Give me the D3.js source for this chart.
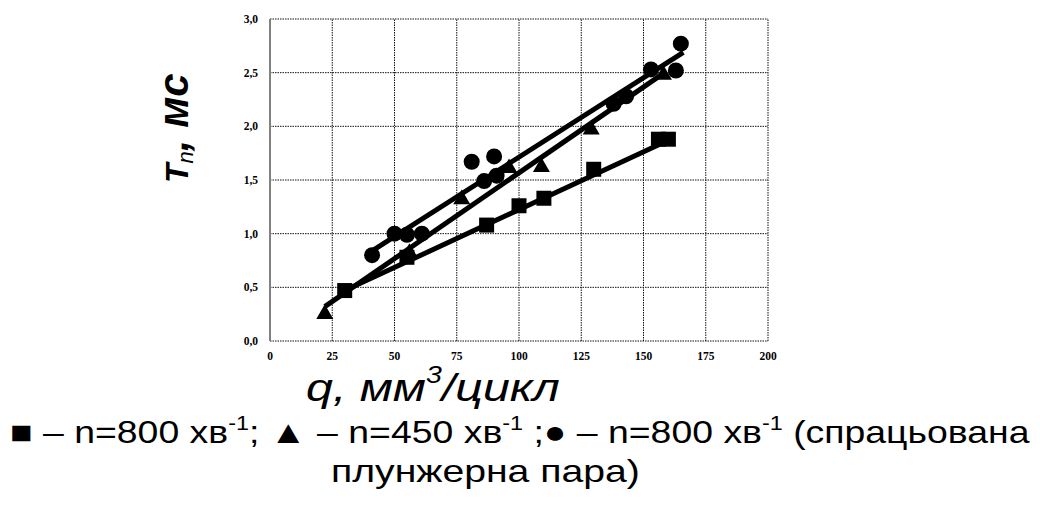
<!DOCTYPE html>
<html>
<head>
<meta charset="utf-8">
<script src="https://cdn.jsdelivr.net/npm/d3@7"></script>
<style>
  html, body { margin: 0; padding: 0; background: #fff; }
  svg { display: block; }
</style>
</head>
<body>
<div id="chart"></div>
<script>
  // ticks
  var xTicks = [0, 25, 50, 75, 100, 125, 150, 175, 200];
  var yTicks = [0, 0.5, 1.0, 1.5, 2.0, 2.5, 3.0];

  // n=800 (squares)
  var sqX = [30, 55, 87, 100, 110, 130, 156, 160];
  var sqY = [0.47, 0.78, 1.08, 1.26, 1.33, 1.60, 1.88, 1.88];

  // n=450 (triangles)
  var triX = [22, 56, 77, 96, 109, 129, 158];
  var triY = [0.25, 0.82, 1.32, 1.61, 1.62, 1.97, 2.48];

  // n=800, worn plunger pair (circles)
  var cirX = [41, 50, 55, 61, 81, 86, 90, 91, 138, 143, 153, 163, 165];
  var cirY = [0.80, 1.00, 0.99, 1.00, 1.67, 1.49, 1.72, 1.54, 2.21, 2.28, 2.53, 2.52, 2.77];

  // trend lines, start and end
  var sqFit = [[30, 0.47], [160, 1.87]];
  var triFit = [[22, 0.32], [159, 2.51]];
  var cirFit = [[41, 0.84], [166, 2.69]];

  var width = 1040,
      height = 520;

  var svg = d3.select('#chart')
    .append('svg')
    .attr('width', width)
    .attr('height', height);

  svg.append('rect')
    .attr('width', width)
    .attr('height', height)
    .attr('fill', '#fff');

  var x = d3.scaleLinear().domain([0, 200]).range([270, 768]);
  var y = d3.scaleLinear().domain([0, 3]).range([341, 19]);

  var fmt = function(d) { return d3.format('.1f')(d).replace('.', ','); };

  // grid
  var grid = svg.append('g').attr('class', 'grid');
  grid.selectAll('line.v')
    .data(xTicks.slice(1))
    .enter().append('line')
    .attr('class', 'v')
    .attr('x1', function(d) { return x(d); })
    .attr('x2', function(d) { return x(d); })
    .attr('y1', y(0))
    .attr('y2', y(3))
    .attr('stroke', '#111')
    .attr('stroke-width', 1)
    .attr('stroke-dasharray', '1.5,1');
  grid.selectAll('line.h')
    .data(yTicks)
    .enter().append('line')
    .attr('class', 'h')
    .attr('x1', x(0))
    .attr('x2', x(200))
    .attr('y1', function(d) { return y(d); })
    .attr('y2', function(d) { return y(d); })
    .attr('stroke', '#111')
    .attr('stroke-width', 1)
    .attr('stroke-dasharray', '1.5,1');

  // left axis
  svg.append('line')
    .attr('x1', x(0)).attr('x2', x(0))
    .attr('y1', y(0)).attr('y2', y(3))
    .attr('stroke', '#808080')
    .attr('stroke-width', 2);

  // tick labels
  svg.append('g').selectAll('text')
    .data(yTicks)
    .enter().append('text')
    .attr('x', 258)
    .attr('y', function(d) { return y(d) + 4; })
    .attr('text-anchor', 'end')
    .attr('font-family', 'Liberation Serif, Times New Roman, serif')
    .attr('font-weight', 'bold')
    .attr('font-size', 11.5)
    .text(fmt);

  svg.append('g').selectAll('text')
    .data(xTicks)
    .enter().append('text')
    .attr('x', function(d) { return x(d); })
    .attr('y', 360)
    .attr('text-anchor', 'middle')
    .attr('font-family', 'Liberation Serif, Times New Roman, serif')
    .attr('font-weight', 'bold')
    .attr('font-size', 11.5)
    .text(function(d) { return d; });

  // trend lines
  var line = d3.line()
    .x(function(d) { return x(d[0]); })
    .y(function(d) { return y(d[1]); });

  [sqFit, triFit, cirFit].forEach(function(f) {
    svg.append('path')
      .attr('d', line(f))
      .attr('fill', 'none')
      .attr('stroke', '#000')
      .attr('stroke-width', 5);
  });

  // markers
  var pts = function(xs, ys) { return xs.map(function(v, i) { return [v, ys[i]]; }); };

  svg.append('g').selectAll('rect')
    .data(pts(sqX, sqY))
    .enter().append('rect')
    .attr('x', function(d) { return x(d[0]) - 7.5; })
    .attr('y', function(d) { return y(d[1]) - 7.5; })
    .attr('width', 15)
    .attr('height', 15)
    .attr('fill', '#000');

  var tri = d3.symbol().type(d3.symbolTriangle).size(125);
  svg.append('g').selectAll('path')
    .data(pts(triX, triY))
    .enter().append('path')
    .attr('d', tri)
    .attr('transform', function(d) { return 'translate(' + x(d[0]) + ',' + y(d[1]) + ')'; })
    .attr('fill', '#000');

  svg.append('g').selectAll('circle')
    .data(pts(cirX, cirY))
    .enter().append('circle')
    .attr('cx', function(d) { return x(d[0]); })
    .attr('cy', function(d) { return y(d[1]); })
    .attr('r', 8)
    .attr('fill', '#000');

  // stretch a text horizontally so it spans [left, right]
  function fit(sel, left, right, baseY) {
    var b = sel.node().getBBox();
    var k = (right - left) / b.width;
    sel.attr('transform', 'translate(' + left + ',' + baseY + ') scale(' + k + ',1) translate(' + (-b.x) + ',0)');
  }

  // y axis title
  var yt = svg.append('text')
    .attr('transform', 'translate(188,183) rotate(-90)')
    .attr('font-family', 'Liberation Sans, Arial, sans-serif')
    .attr('font-style', 'italic')
    .attr('font-weight', 'bold')
    .attr('font-size', 32);
  yt.append('tspan').text('T');
  yt.append('tspan').attr('font-size', 22).attr('font-weight', 'normal').attr('dy', 5).text('n');
  yt.append('tspan').attr('dy', -5).attr('font-size', 42).text(', мс');

  // x axis title
  var xt = svg.append('text')
    .attr('font-family', 'Liberation Sans, Arial, sans-serif')
    .attr('font-style', 'italic')
    .attr('font-size', 39);
  xt.append('tspan').text('q, мм');
  xt.append('tspan').attr('font-size', 23).attr('dy', -18).text('3');
  xt.append('tspan').attr('dy', 18).text('/цикл');
  fit(xt, 306, 560, 401);

  // legend
  var lg = svg.append('text')
    .attr('font-family', 'Liberation Sans, Arial, sans-serif')
    .attr('font-size', 32);
  var sup = function(t) {
    lg.append('tspan').attr('font-size', 20).attr('dy', -13).text('-1');
    lg.append('tspan').attr('dy', 13).text(t);
  };
  lg.append('tspan').text('■ – n=800 хв');
  sup('; ▲ – n=450 хв');
  sup(' ;● – n=800 хв');
  sup(' (спрацьована');
  fit(lg, 10, 1030, 443);

  var lg2 = svg.append('text')
    .attr('font-family', 'Liberation Sans, Arial, sans-serif')
    .attr('font-size', 32)
    .text('плунжерна пара)');
  fit(lg2, 331, 640, 482);
</script>
</body>
</html>
